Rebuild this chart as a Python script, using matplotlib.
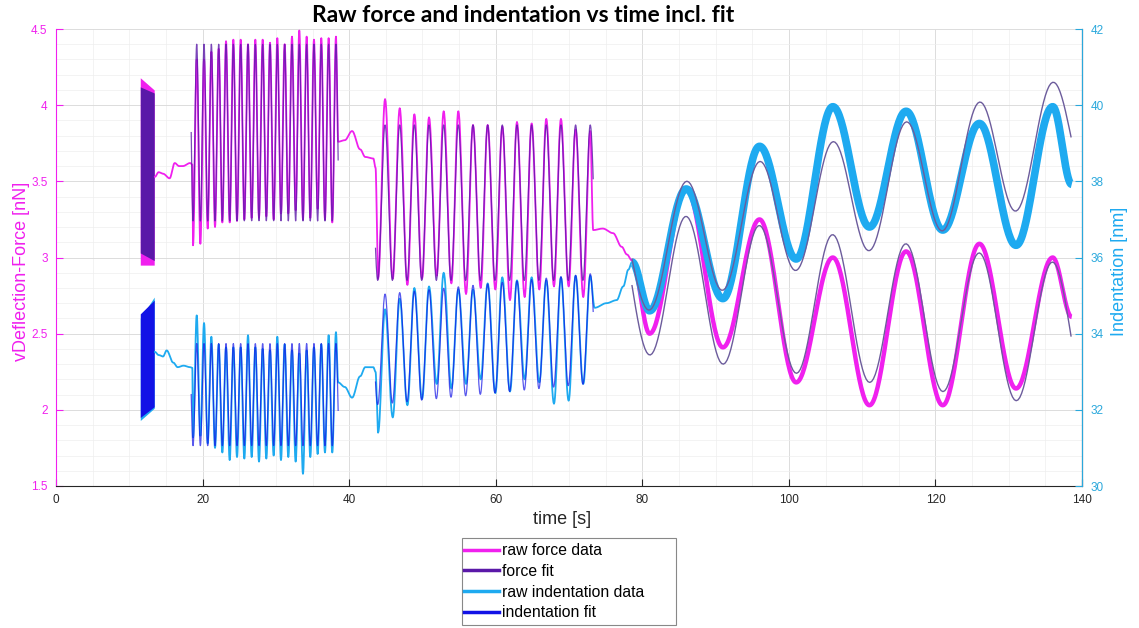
import numpy as np
import matplotlib
matplotlib.use('Agg')
import matplotlib.pyplot as plt
from matplotlib.lines import Line2D
from matplotlib.patches import Rectangle
from matplotlib.ticker import MultipleLocator, FuncFormatter

# ---- values ----
# force in nN (left axis), indentation in nm (right axis), time in s

# segment A: very fast oscillation, shows as a solid block -> edges only
block_time = [11.5, 13.4]
force_block_raw_top = [4.18, 4.10]
force_block_raw_bot = [2.95, 2.95]
force_block_fit_top = [4.12, 4.08]
force_block_fit_bot = [3.03, 2.98]
indent_block_raw_top = [34.40, 34.96]
indent_block_raw_bot = [31.72, 32.04]
indent_block_fit_top = [34.52, 34.88]
indent_block_fit_bot = [31.80, 32.08]

# resting parts between the oscillations (raw data only)
force_rest1_t = [13.5, 14.0, 14.6, 15.5, 16.2, 16.8, 17.3, 18.3, 18.6]
force_rest1 = [3.53, 3.56, 3.55, 3.52, 3.62, 3.60, 3.60, 3.62, 3.61]
indent_rest1_t = [13.5, 14.0, 14.6, 15.1, 16.0, 16.6, 17.4, 18.3, 18.6]
indent_rest1 = [33.52, 33.44, 33.40, 33.56, 33.24, 33.12, 33.16, 33.12, 33.10]

force_rest2_t = [38.5, 39.4, 40.4, 41.5, 42.2, 43.3, 43.6]
force_rest2 = [3.76, 3.77, 3.83, 3.71, 3.66, 3.65, 3.59]
indent_rest2_t = [38.5, 39.4, 40.4, 41.5, 42.2, 43.3, 43.6]
indent_rest2 = [32.72, 32.60, 32.32, 32.88, 33.12, 33.12, 33.00]

force_rest3_t = [73.3, 74.6, 76.0, 77.2, 77.9, 78.6]
force_rest3 = [3.18, 3.19, 3.16, 3.07, 3.02, 2.98]
indent_rest3_t = [73.5, 75.1, 76.5, 77.4, 78.1, 78.6]
indent_rest3 = [34.68, 34.80, 34.88, 35.24, 35.68, 35.88]

# segment B: 1 s period, troughs at 18.7 + k, peaks at 19.2 + k
b_trough_t = np.arange(20) * 1.0 + 18.7
b_peak_t = np.arange(20) * 1.0 + 19.2
force_b_peaks = [4.30, 4.30, 4.35, 4.37, 4.42, 4.43, 4.43, 4.40, 4.43, 4.43,
                 4.41, 4.44, 4.40, 4.45, 4.49, 4.45, 4.43, 4.44, 4.44, 4.45]
force_b_troughs = [3.08, 3.09, 3.19, 3.20, 3.23, 3.23, 3.24, 3.25, 3.26, 3.26,
                   3.27, 3.25, 3.29, 3.29, 3.31, 3.25, 3.26, 3.32, 3.25, 3.23]
indent_b_peaks = [34.48, 34.28, 33.92, 33.72, 33.64, 33.64, 33.64, 33.96, 33.64, 33.60,
                  33.56, 33.92, 33.72, 33.56, 33.48, 33.56, 33.64, 33.72, 33.96, 34.04]
indent_b_troughs = [31.28, 31.32, 31.12, 31.00, 30.88, 30.68, 30.76, 30.72, 30.76, 30.64,
                    30.72, 30.80, 30.68, 30.76, 30.64, 30.32, 30.76, 30.84, 30.88, 30.88]

# segment D: 2 s period
d_trough_t = np.arange(15) * 2.0 + 43.95
d_peak_t = np.arange(15) * 2.0 + 44.9
force_d_peaks = [4.04, 3.98, 3.94, 3.92, 3.96, 3.96, 3.87, 3.87, 3.86, 3.89,
                 3.88, 3.91, 3.91, 3.84, 3.83]
force_d_troughs = [2.86, 2.86, 2.82, 2.86, 2.88, 2.83, 2.76, 2.80, 2.79, 2.72,
                   2.74, 2.79, 2.81, 2.81, 2.74]
indent_d_peaks = [34.64, 34.92, 35.20, 35.24, 35.60, 35.16, 35.16, 35.32, 35.48, 35.40,
                  35.48, 35.40, 35.48, 35.52, 35.52]
indent_d_troughs = [31.40, 31.80, 32.12, 32.28, 32.68, 32.56, 32.68, 32.80, 32.44, 32.48,
                    32.80, 32.72, 32.16, 32.24, 32.68]

# segment F: 10 s period
f_trough_t = [81, 91, 101, 111, 121, 131]
f_peak_t = [86, 96, 106, 116, 126, 136]
f_end_t = 138.6
force_f_troughs = [2.50, 2.41, 2.18, 2.03, 2.03, 2.14]
force_f_peaks = [3.45, 3.25, 3.00, 3.04, 3.09, 3.00]
force_f_end = 2.61
indent_f_troughs = [34.60, 34.92, 35.96, 36.80, 36.72, 36.32]
indent_f_peaks = [37.80, 38.92, 39.96, 39.84, 39.52, 39.96]
indent_f_end = 37.92

# sine fit parameters per segment (B, D, F)
fit_start = [18.45, 43.6, 78.6]
fit_end = [38.5, 73.3, 138.5]
fit_period = [1.0, 2.0, 10.0]
fit_peak_t = [19.2, 44.9, 86.0]
force_fit_offset = [3.82, 3.36, 2.80]
force_fit_drift = [0.0, 0.0, -0.006]
force_fit_amp = [0.58, 0.51, 0.47]
indent_fit_offset = [32.40, 33.60, 36.44]
indent_fit_drift = [0.0, 0.019, 0.052]
indent_fit_amp = [1.34, 1.44, 1.56]

c_force = '#F020EE'
c_force_fit = '#5A18A8'
c_indent = '#1EAAF0'
c_indent_fit = '#1212E6'
c_slow_fit = '#6C5C9C'
c_right = '#2AA8DC'


def alternate(t_lo, lo, t_hi, hi):
    t = np.concatenate([t_lo, t_hi])
    v = np.concatenate([lo, hi])
    o = np.argsort(t)
    return t[o], v[o]


def shaped(t, v, n=14):
    # join successive points with half-cosine steps
    t = np.asarray(t, float)
    v = np.asarray(v, float)
    u = np.linspace(0, 1, n, endpoint=False)
    s = (1 - np.cos(np.pi * u)) / 2
    tt = (t[:-1, None] + np.diff(t)[:, None] * u).ravel()
    vv = (v[:-1, None] + np.diff(v)[:, None] * s).ravel()
    return np.append(tt, t[-1]), np.append(vv, v[-1])


def fit_curve(i, offset, drift, amp):
    t = np.linspace(fit_start[i], fit_end[i], int((fit_end[i] - fit_start[i]) / fit_period[i] * 40) + 2)
    y = offset[i] + drift[i] * (t - fit_peak_t[i]) + amp[i] * np.cos(2 * np.pi * (t - fit_peak_t[i]) / fit_period[i])
    return t, y


def raw_series(rest1_t, rest1, b_lo, b_hi, rest2_t, rest2, d_lo, d_hi, rest3_t, rest3):
    bt, bv = alternate(b_trough_t, b_lo, b_peak_t, b_hi)
    dt, dv = alternate(d_trough_t, d_lo, d_peak_t, d_hi)
    t = np.concatenate([rest1_t, bt, rest2_t, dt, rest3_t])
    v = np.concatenate([rest1, bv, rest2, dv, rest3])
    return shaped(t, v)


def slow_series(t0, v0, lo, hi, end):
    t, v = alternate(f_trough_t, lo, f_peak_t, hi)
    return shaped(np.concatenate([[t0], t, [f_end_t]]), np.concatenate([[v0], v, [end]]), n=40)


plt.rcParams['font.family'] = ['Liberation Sans', 'DejaVu Sans']
fig = plt.figure(figsize=(11.39, 6.28), dpi=100)
ax = fig.add_axes([56 / 1139, 142 / 628, 1026 / 1139, 457 / 628])
ax2 = ax.twinx()

# ---- force (left axis) ----
ax.fill_between(block_time, force_block_raw_bot, force_block_raw_top, color=c_force, lw=0)
ax.fill_between(block_time, force_block_fit_bot, force_block_fit_top, color=c_force_fit, lw=0)
ft, fv = raw_series(force_rest1_t, force_rest1, force_b_troughs, force_b_peaks,
                    force_rest2_t, force_rest2, force_d_troughs, force_d_peaks,
                    force_rest3_t, force_rest3)
ax.plot(ft, fv, color=c_force, lw=1.3)
st, sv = slow_series(force_rest3_t[-1], force_rest3[-1], force_f_troughs, force_f_peaks, force_f_end)
ax.plot(st, sv, color=c_force, lw=3.2, solid_capstyle='butt')
for i in range(2):
    t, y = fit_curve(i, force_fit_offset, force_fit_drift, force_fit_amp)
    ax.plot(t, y, color=c_force_fit, lw=0.9, alpha=0.8)
t, y = fit_curve(2, force_fit_offset, force_fit_drift, force_fit_amp)
ax.plot(t, y, color=c_slow_fit, lw=1.0)

# ---- indentation (right axis) ----
ax2.fill_between(block_time, indent_block_raw_bot, indent_block_raw_top, color=c_indent, lw=0)
ax2.fill_between(block_time, indent_block_fit_bot, indent_block_fit_top, color=c_indent_fit, lw=0)
it, iv = raw_series(indent_rest1_t, indent_rest1, indent_b_troughs, indent_b_peaks,
                    indent_rest2_t, indent_rest2, indent_d_troughs, indent_d_peaks,
                    indent_rest3_t, indent_rest3)
ax2.plot(it, iv, color=c_indent, lw=1.3)
st, sv = slow_series(indent_rest3_t[-1], indent_rest3[-1], indent_f_troughs, indent_f_peaks, indent_f_end)
ax2.plot(st, sv, color=c_indent, lw=5.5, solid_capstyle='butt')
for i in range(2):
    t, y = fit_curve(i, indent_fit_offset, indent_fit_drift, indent_fit_amp)
    ax2.plot(t, y, color=c_indent_fit, lw=0.9, alpha=0.7)
t, y = fit_curve(2, indent_fit_offset, indent_fit_drift, indent_fit_amp)
ax2.plot(t, y, color=c_slow_fit, lw=1.0)

# ---- axes styling ----
ax.set_xlim(0, 140)
ax.set_ylim(1.5, 4.5)
ax2.set_ylim(30, 42)
ax.xaxis.set_major_locator(MultipleLocator(20))
ax.xaxis.set_minor_locator(MultipleLocator(5))
ax.yaxis.set_major_locator(MultipleLocator(0.5))
ax.yaxis.set_minor_locator(MultipleLocator(0.1))
ax2.yaxis.set_major_locator(MultipleLocator(2))
ax.yaxis.set_major_formatter(FuncFormatter(lambda v, p: '%g' % v))
ax.grid(which='major', color='#dcdcdc', lw=0.7)
ax.grid(which='minor', color='#eeeeee', lw=0.5)
ax.set_axisbelow(True)

ax.tick_params(axis='x', which='major', direction='in', length=5, labelsize=8.5, colors='#262626', pad=6)
ax.tick_params(axis='y', which='major', direction='in', length=5, labelsize=8.5, colors=c_force, pad=6)
ax.tick_params(which='minor', length=0)
ax2.tick_params(axis='y', direction='in', length=5, labelsize=8.5, colors=c_right, pad=6)
ax2.tick_params(which='minor', length=0)

for a in (ax, ax2):
    a.spines['top'].set_visible(False)
ax.spines['left'].set_color(c_force)
ax.spines['bottom'].set_color('#262626')
ax2.spines['left'].set_visible(False)
ax2.spines['bottom'].set_visible(False)
ax2.spines['right'].set_color(c_right)

ax.set_xlabel('time [s]', fontsize=13, color='#262626')
ax.xaxis.set_label_coords(0.493, -0.055)
ax.set_ylabel('vDeflection-Force [nN]', fontsize=13, color=c_force)
ax.yaxis.set_label_coords(-0.025, 0.47)
ax2.set_ylabel('Indentation [nm]', fontsize=13, color=c_indent)
ax2.yaxis.set_label_coords(1.028, 0.47)

fig.text(523 / 1139, 1 - 15 / 628, 'Raw force and indentation vs time incl. fit',
         ha='center', va='center', fontsize=16.5, fontweight='bold', family=['Lato', 'DejaVu Sans'])

# legend, with a box drawn at the size of the reference one
handles = [Line2D([], [], color=c_force, lw=2.5),
           Line2D([], [], color=c_force_fit, lw=2.5),
           Line2D([], [], color=c_indent, lw=2.5),
           Line2D([], [], color=c_indent_fit, lw=2.5)]
labels = ['raw force data', 'force fit', 'raw indentation data', 'indentation fit']
fig.legend(handles, labels, loc='upper left', bbox_to_anchor=(464 / 1139, 1 - 543 / 628),
           fontsize=11.3, frameon=False, handlelength=2.2, handletextpad=0.2,
           labelspacing=0.37, borderpad=0.0, borderaxespad=0)
fig.patches.append(Rectangle((462 / 1139, 1 - 625 / 628), 214 / 1139, 87 / 628,
                             transform=fig.transFigure, fill=False, edgecolor='#888888', lw=0.8))

fig.savefig('out.png', dpi=100)
